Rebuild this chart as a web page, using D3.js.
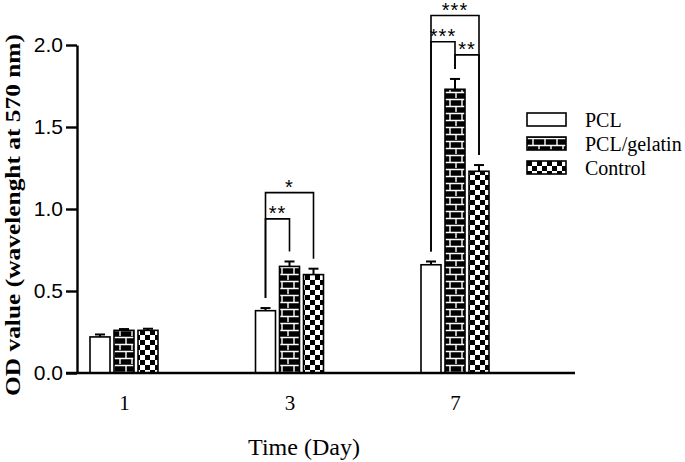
<!DOCTYPE html>
<html>
<head>
<meta charset="utf-8">
<script src="https://cdn.jsdelivr.net/npm/d3@7"></script>
<style>
  body { margin: 0; background: #fff; }
  svg { display: block; }
</style>
</head>
<body>
<div id="vis"></div>
<script>
// data
const days = ["1", "3", "7"];
const series = ["PCL", "PCL/gelatin", "Control"];
const means = {
  "PCL":         [0.22, 0.38, 0.66],
  "PCL/gelatin": [0.26, 0.65, 1.73],
  "Control":     [0.26, 0.60, 1.23]
};
const errs = {
  "PCL":         [0.015, 0.016, 0.02],
  "PCL/gelatin": [0.008, 0.03, 0.063],
  "Control":     [0.01, 0.036, 0.038]
};
const yTicks = [0, 0.5, 1.0, 1.5, 2.0];
const brackets = [
  { day: "3", a: "PCL", b: "PCL/gelatin", level: 0.94, label: "**" },
  { day: "3", a: "PCL", b: "Control", level: 1.10, label: "*" },
  { day: "7", a: "PCL", b: "PCL/gelatin", level: 2.02, label: "***" },
  { day: "7", a: "PCL/gelatin", b: "Control", level: 1.94, label: "**" },
  { day: "7", a: "PCL", b: "Control", level: 2.18, label: "***" }
];

const W = 685, H = 462;
const x0 = 77, y0 = 373;
const serif = "'Liberation Serif', 'Times New Roman', Times, serif";
const sans = "'Liberation Sans', Arial, Helvetica, sans-serif";

const rows = [];
series.forEach(s => days.forEach((d, i) => rows.push({ s, day: d, v: means[s][i], e: errs[s][i] })));

const y = d3.scaleLinear().domain([0, 2]).range([y0, 45]);
const x = d3.scalePoint().domain(days).range([124, 455]);
const xs = d3.scaleBand().domain(series).range([-36, 36]).paddingInner(1 / 6).paddingOuter(1 / 12);
const fills = { "PCL": "#fff", "PCL/gelatin": "url(#brick)", "Control": "url(#check)" };

const svg = d3.select("#vis").append("svg").attr("width", W).attr("height", H);

//#region patterns
const defs = svg.append("defs");
const brick = defs.append("pattern").attr("id", "brick").attr("patternUnits", "userSpaceOnUse")
  .attr("width", 12).attr("height", 14);
brick.append("rect").attr("width", 12).attr("height", 14).attr("fill", "#000");
brick.append("path")
  .attr("d", "M0,1.5H12M0,8.5H12M6,1.5V8.5M0,8.5V15.5M12,8.5V15.5")
  .attr("stroke", "#fff").attr("stroke-width", 1.4).attr("fill", "none");

const check = defs.append("pattern").attr("id", "check").attr("patternUnits", "userSpaceOnUse")
  .attr("width", 10).attr("height", 10);
check.append("rect").attr("width", 10).attr("height", 10).attr("fill", "#fff");
check.append("rect").attr("width", 5).attr("height", 5).attr("fill", "#000");
check.append("rect").attr("x", 5).attr("y", 5).attr("width", 5).attr("height", 5).attr("fill", "#000");
//#endregion

//#region bars
const bx = d => x(d.day) + xs(d.s);
svg.append("g").selectAll("line.err")
  .data(rows).enter().append("line")
  .attr("x1", d => bx(d) + xs.bandwidth() / 2).attr("x2", d => bx(d) + xs.bandwidth() / 2)
  .attr("y1", d => y(d.v)).attr("y2", d => y(d.v + d.e))
  .attr("stroke", "#000").attr("stroke-width", 2);
svg.append("g").selectAll("line.cap")
  .data(rows).enter().append("line")
  .attr("x1", d => bx(d) + xs.bandwidth() / 2 - 5).attr("x2", d => bx(d) + xs.bandwidth() / 2 + 5)
  .attr("y1", d => y(d.v + d.e)).attr("y2", d => y(d.v + d.e))
  .attr("stroke", "#000").attr("stroke-width", 2);
svg.append("g").selectAll("rect")
  .data(rows).enter().append("rect")
  .attr("x", bx).attr("y", d => y(d.v))
  .attr("width", xs.bandwidth()).attr("height", d => y0 - y(d.v))
  .attr("fill", d => fills[d.s]).attr("stroke", "#000").attr("stroke-width", 1.6);
//#endregion

//#region significance brackets
const cx = (day, s) => x(day) + xs(s) + xs.bandwidth() / 2;
const topOf = (day, s) => { const i = days.indexOf(day); return y(means[s][i] + errs[s][i]) - 10; };
const br = svg.append("g").attr("fill", "none").attr("stroke", "#000").attr("stroke-width", 1.6);
br.selectAll("path").data(brackets).enter().append("path")
  .attr("d", d => `M${cx(d.day, d.a)},${topOf(d.day, d.a)}V${y(d.level)}H${cx(d.day, d.b)}V${topOf(d.day, d.b)}`);
svg.append("g").selectAll("text").data(brackets).enter().append("text")
  .attr("x", d => (cx(d.day, d.a) + cx(d.day, d.b)) / 2)
  .attr("y", d => y(d.level) + 1.5)
  .attr("text-anchor", "middle")
  .style("font-family", sans)
  .style("font-size", "20px").style("letter-spacing", "1px")
  .text(d => d.label);
//#endregion

//#region axes
const yAxis = d3.axisLeft(y).tickValues(yTicks).tickFormat(d3.format(".1f")).tickSize(11).tickSizeOuter(0).tickPadding(3);
const gy = svg.append("g").attr("transform", `translate(${x0},0)`).call(yAxis);
gy.select(".domain").attr("stroke-width", 2.4);
gy.selectAll(".tick line").attr("stroke-width", 2.4);
gy.selectAll("text").style("font-family", sans).style("font-size", "21px").attr("fill", "#000");

const xAxis = d3.axisBottom(x).tickSize(0).tickPadding(22);
const gx = svg.append("g").attr("transform", `translate(0,${y0})`).call(xAxis);
gx.select(".domain").remove();
gx.selectAll("text").style("font-family", serif).style("font-size", "21px").attr("fill", "#000");
svg.append("line").attr("x1", 66).attr("x2", 575).attr("y1", y0).attr("y2", y0)
  .attr("stroke", "#000").attr("stroke-width", 2.6);

svg.append("text")
  .attr("transform", "translate(20,215) rotate(-90)")
  .attr("text-anchor", "middle")
  .attr("textLength", 362).attr("lengthAdjust", "spacingAndGlyphs")
  .style("font-family", serif)
  .style("font-size", "21px").style("font-weight", "bold")
  .text("OD value (wavelenght at 570 nm)");

svg.append("text")
  .attr("x", 304).attr("y", 455)
  .attr("text-anchor", "middle")
  .style("font-family", serif)
  .style("font-size", "24px")
  .text("Time (Day)");
//#endregion

//#region legend
const leg = svg.append("g").selectAll("g").data(series).enter().append("g")
  .attr("transform", (d, i) => `translate(527,${113 + i * 24})`);
leg.append("rect").attr("width", 39).attr("height", 13)
  .attr("fill", d => fills[d]).attr("stroke", "#000").attr("stroke-width", 1.6);
leg.append("text").attr("x", 58).attr("y", 14)
  .style("font-family", serif)
  .style("font-size", "20px")
  .text(d => d);
//#endregion
</script>
</body>
</html>
